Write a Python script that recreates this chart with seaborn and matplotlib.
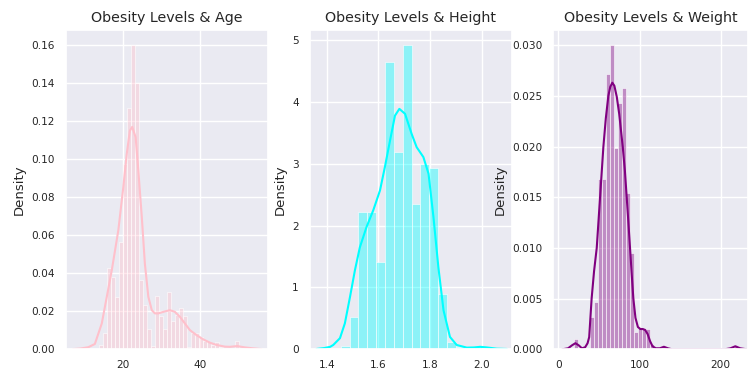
import numpy as np
import pandas as pd
import matplotlib
matplotlib.use("Agg")
import matplotlib.pyplot as plt
import seaborn as sns

# ---------------- data ----------------
titles = ["Obesity Levels & Age", "Obesity Levels & Height", "Obesity Levels & Weight"]
colors = ["pink", "cyan", "purple"]

# Age histogram (density per bin)
age_bin_start = 13.76
age_bin_width = 1.043
age_heights = [0.0023, 0.0087, 0.043, 0.038, 0.0276, 0.0565, 0.0976, 0.127, 0.160, 0.140,
               0.0367, 0.0233, 0.0105, 0.0017, 0.028, 0.0175, 0.0105, 0.030, 0.015, 0.0178,
               0.0215, 0.0175, 0.0012, 0.0084, 0.0084, 0.0065, 0.0045, 0.004, 0.002, 0.004,
               0.001, 0.0, 0.0, 0.0, 0.0045]
# Age KDE curve
age_kde_x = [7.0, 9.0, 11.0, 12.7, 14.5, 15.8, 17.1, 18.8, 20.1, 21.0, 21.8, 22.4, 23.3, 24.0,
             24.9, 25.7, 26.6, 27.5, 28.3, 29.2, 30.5, 32.2, 33.5, 34.8, 36.1, 37.4, 39.1,
             40.9, 42.6, 44.3, 46.5, 47.8, 49.7, 51.7, 53.8, 56.0]
age_kde_y = [0.0001, 0.0004, 0.0011, 0.0028, 0.0136, 0.0276, 0.0416, 0.0626, 0.0854, 0.103,
             0.115, 0.117, 0.1116, 0.094, 0.0696, 0.045, 0.0276, 0.0206, 0.0189, 0.0189,
             0.0197, 0.0206, 0.0197, 0.0171, 0.0136, 0.0101, 0.0075, 0.0052, 0.0035, 0.0023,
             0.0014, 0.0013, 0.0017, 0.001, 0.0005, 0.0001]

# Height histogram
height_bin_start = 1.454
height_bin_width = 0.0343
height_heights = [0.05, 0.52, 2.22, 2.22, 1.41, 4.65, 3.19, 4.92, 2.35, 3.00, 2.93, 0.89,
                  0.12, 0.04, 0.0, 0.03]
height_kde_x = [1.36, 1.39, 1.413, 1.425, 1.451, 1.470, 1.490, 1.509, 1.528, 1.554, 1.580,
                1.606, 1.625, 1.645, 1.664, 1.681, 1.703, 1.729, 1.748, 1.774, 1.794, 1.813,
                1.832, 1.852, 1.877, 1.903, 1.942, 1.970, 1.994, 2.02, 2.058, 2.097]
height_kde_y = [0.005, 0.02, 0.04, 0.07, 0.18, 0.42, 0.85, 1.28, 1.65, 1.98, 2.25, 2.57, 2.95,
                3.38, 3.78, 3.89, 3.81, 3.48, 3.27, 3.11, 2.84, 2.14, 1.33, 0.63, 0.20, 0.07,
                0.027, 0.03, 0.04, 0.03, 0.01, 0.005]

# Weight histogram
weight_bin_start = 19.3
weight_bin_width = 4.93
weight_heights = [0.001, 0.0, 0.0, 0.0, 0.0032, 0.0047, 0.0168, 0.0168, 0.0272, 0.030,
                  0.0199, 0.0243, 0.0258, 0.0154, 0.0095, 0.0017, 0.0021, 0.0021, 0.0020,
                  0.0005, 0.0, 0.0, 0.0003, 0.0, 0.0, 0.0, 0.0, 0.0, 0.0, 0.0, 0.0, 0.0,
                  0.0, 0.0, 0.0, 0.0, 0.0, 0.0, 0.0, 0.0, 0.0003]
weight_kde_x = [5, 12, 17, 21, 25, 29, 33, 36, 38, 41, 44, 47.3, 51.4, 55.5, 58.5, 61.6, 64,
                66.5, 69, 72, 75, 79.3, 82, 84.2, 86.3, 88.3, 90.3, 92.4, 95, 98, 101, 104,
                107, 110, 113, 116, 120, 125, 130, 135, 140, 205, 212, 218, 224, 232]
weight_kde_y = [0.0, 0.0001, 0.0004, 0.0006, 0.0004, 0.0001, 0.0002, 0.0006, 0.0012, 0.005,
                0.0077, 0.010, 0.015, 0.020, 0.0228, 0.025, 0.0259, 0.0263, 0.026, 0.0249,
                0.0232, 0.020, 0.0176, 0.015, 0.0125, 0.010, 0.0075, 0.005, 0.0031, 0.0022,
                0.002, 0.002, 0.0019, 0.0015, 0.0008, 0.0003, 0.0001, 0.0001, 0.00025, 0.0001,
                0.0, 0.0, 0.0001, 0.0003, 0.0001, 0.0]

x_limits = [(5.2, 57.7), (1.335, 2.116), (-6.2, 233.6)]
x_ticks = [[20, 40], [1.4, 1.6, 1.8, 2.0], [0, 100, 200]]
y_ticks = [np.arange(0, 0.161, 0.02), [0, 1, 2, 3, 4, 5], np.arange(0, 0.0301, 0.005)]
y_fmt = ["{:.2f}", "{:.0f}", "{:.3f}"]

# ---------------- plotting ----------------
sns.set_theme(style="darkgrid")
plt.rcParams["font.family"] = ["DejaVu Sans"]

W, H = 750, 374
fig = plt.figure(figsize=(W / 100, H / 100), dpi=100)
ax_boxes_px = [(66, 268), (310, 511.7), (553.3, 748)]
top_px, bot_px = 30, 349.3

hists = [(age_bin_start, age_bin_width, age_heights),
         (height_bin_start, height_bin_width, height_heights),
         (weight_bin_start, weight_bin_width, weight_heights)]
kdes = [(age_kde_x, age_kde_y), (height_kde_x, height_kde_y), (weight_kde_x, weight_kde_y)]

for i in range(3):
    l, r = ax_boxes_px[i]
    ax = fig.add_axes([l / W, (H - bot_px) / H, (r - l) / W, (bot_px - top_px) / H])
    start, width, heights = hists[i]
    n = len(heights)
    edges = [float(start + width * k) for k in range(n + 1)]
    df = pd.DataFrame({"value": [start + width * (k + 0.5) for k in range(n)],
                       "density": heights})
    sns.histplot(data=df, x="value", weights="density", bins=edges, color=colors[i],
                 alpha=0.4, edgecolor="white", linewidth=0.4, stat="count", ax=ax)
    kx, ky = kdes[i]
    sns.lineplot(x=kx, y=ky, color=colors[i], linewidth=1.5, ax=ax)
    ax.set_xlim(*x_limits[i])
    ax.set_ylim(0, max(heights) * 1.05)
    ax.set_xticks(x_ticks[i])
    ax.set_yticks(y_ticks[i])
    ax.set_yticklabels([y_fmt[i].format(v) for v in y_ticks[i]])
    ax.tick_params(labelsize=7.6, colors=".15", pad=2)
    ax.set_title(titles[i], fontsize=10.3, color=".15", pad=6)
    ax.set_ylabel("Density", fontsize=9.5, color=".15", labelpad=4)
    ax.set_xlabel("")

fig.savefig("out.png", dpi=100)
